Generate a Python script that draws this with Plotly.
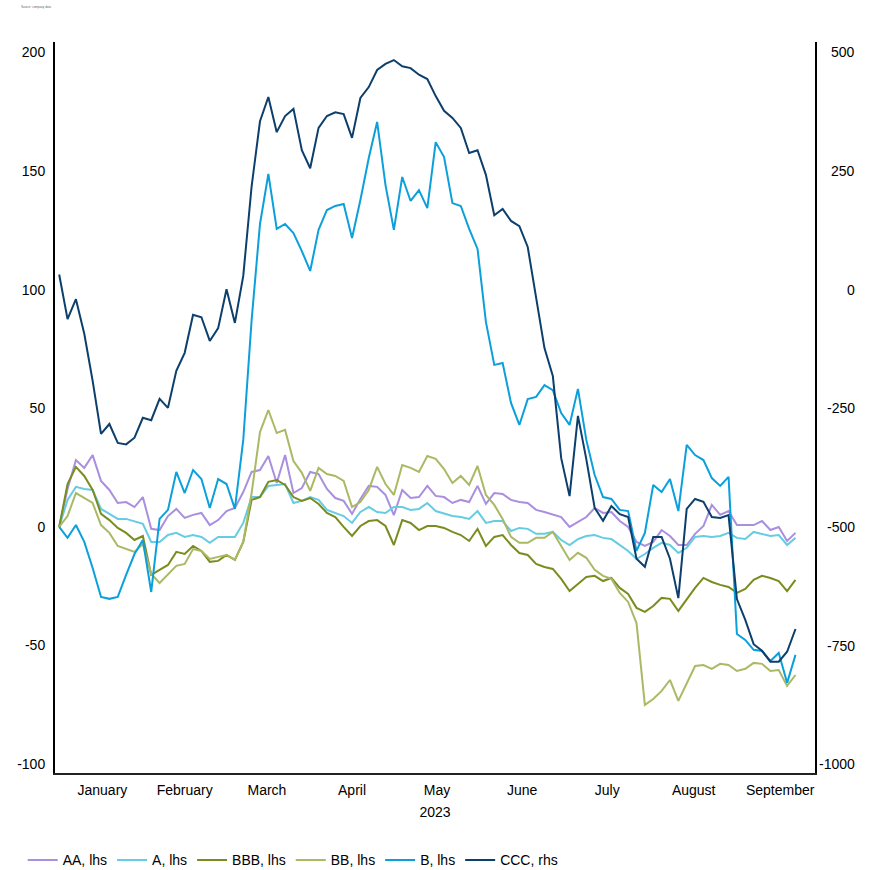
import pandas as pd
import plotly.graph_objects as go

# Sample dates (every 3 days from 1 Jan 2023)
dates = pd.date_range("2023-01-01", periods=89, freq="3D")

aa_lhs = [0, 16, 28.2, 24.9, 30.3, 19.4, 15.6, 10.1, 10.5, 8.4,
          12.6, -0.8, -1.3, 4.6, 7.6, 3.8, 5.1, 5.9, 0.8, 2.9,
          6.7, 8, 14.7, 23.2, 24, 29.9, 18.5, 30.3, 14.3, 16.4,
          23.2, 22.3, 16, 12.2, 11, 5.5, 11.8, 17.3, 16.9, 13.5,
          5, 15.6, 12.2, 12.6, 17.3, 13.1, 12.6, 10.1, 11.4, 10.5,
          17.3, 9.7, 14.3, 13.9, 11.4, 10.5, 10.1, 7.2, 6.3, 5.1,
          4.2, 0, 2.1, 4.2, 8, 5.9, 6.3, 2.5, 0, -6.3,
          -8, -6.3, -1.3, -3.8, -7.6, -7.6, -2.9, 0.4, 9.3, 5.1,
          6.7, 0.8, 0.8, 0.8, 2.5, -1.3, 0, -5.9, -2.5]

a_lhs = [0, 11.4, 16.9, 16, 15.6, 7.6, 5.5, 3.4, 3.4, 2.5,
         1.3, -6.3, -6.3, -3.4, -2.5, -4.2, -3.4, -4.2, -6.7, -4.2,
         -4.2, -4.2, 1.7, 12.6, 12.6, 17.3, 17.7, 18.1, 10.1, 11,
         12.6, 11.4, 7.2, 5.9, 4.6, 1.7, 6.3, 8.4, 6.3, 5.9,
         8.4, 8.4, 7.2, 7.6, 10.1, 6.7, 5.5, 4.6, 4.2, 3.4,
         6.7, 1.7, 2.5, 2.5, -1.7, -0.4, -0.8, -2.9, -2.9, -2.1,
         -5.5, -7.6, -5.1, -3.8, -3.4, -4.6, -5.1, -7.6, -10.1, -13.5,
         -11.4, -8.8, -6.7, -7.6, -11, -8.8, -4.2, -3.8, -4.2, -3.8,
         -2.5, -4.6, -5.1, -2.1, -2.9, -3.8, -3.4, -7.6, -4.6]

bbb_lhs = [0, 18.1, 25.3, 21.5, 15.6, 5.5, 2.9, -0.4, -2.5, -5.5,
           -3.8, -20.2, -18.1, -16, -10.5, -11.4, -8, -10.1, -14.7, -14.3,
           -11.8, -13.9, -6.3, 11.4, 12.6, 19, 19.8, 17.7, 12.6, 11,
           12.2, 9.7, 5.9, 4.2, 0, -3.8, 0.4, 2.5, 2.9, 0.4,
           -7.6, 2.9, 1.7, -1.3, 0.4, 0.4, -0.4, -2.1, -3.4, -5.9,
           -0.8, -8, -4.2, -3.4, -7.6, -11, -11.8, -15.6, -16.9, -17.7,
           -21.9, -27, -24, -21.1, -20.6, -22.8, -21.5, -25.7, -28.2, -34.1,
           -35.8, -33.3, -29.9, -30.3, -35.4, -30.3, -25.7, -21.5, -23.2, -24.4,
           -25.3, -27.8, -26.1, -22.3, -20.6, -21.5, -22.8, -27, -22.3]

bb_lhs = [0, 4.6, 14.3, 12.2, 10.1, 0.8, -2.5, -8, -9.3, -10.5,
          -7.2, -19.8, -23.6, -19.8, -16.4, -15.6, -9.3, -10.1, -13.5, -12.6,
          -11.8, -13.9, -6.3, 14.3, 40, 49.3, 39.6, 40.9, 27.8, 22.8,
          15.2, 24.9, 22.3, 21.5, 19.4, 8.4, 10.5, 15.6, 25.3, 18.1,
          13.5, 26.1, 24.9, 23.2, 29.9, 28.7, 24.4, 18.5, 21.5, 17.7,
          25.7, 13.5, 9.3, 3.4, -4.2, -6.7, -6.7, -4.6, -4.6, -2.1,
          -8, -13.9, -10.9, -13, -18.1, -20.6, -21.9, -27.8, -31.6, -40.5,
          -75, -72.5, -69.1, -64.5, -73.3, -66.2, -58.6, -58.2, -59.8, -57.7,
          -58.2, -60.7, -59.8, -57.3, -57.7, -60.7, -60.3, -67, -62.4]

b_lhs = [0, -4.6, 0.8, -6.3, -17.3, -29.5, -30.3, -29.5, -20.2, -11.4,
         -5.5, -27.4, 3.4, 7.2, 23.2, 14.3, 24, 20.2, 8, 20.2,
         18.1, 7.6, 36.7, 87.2, 127.7, 148.8, 125.6, 127.7, 123.9, 116.3,
         107.9, 125.2, 133.6, 135.3, 136.1, 121.8, 137.8, 155.5, 170.7, 144.1,
         125.2, 147.5, 137.4, 142, 134.4, 162.2, 155.9, 136.5, 135.3, 125.6,
         117.2, 86.4, 68.3, 69.1, 52.3, 43, 53.9, 54.8, 59.8, 57.7,
         48, 43, 58.2, 36.7, 21.9, 12.6, 11.8, 7.2, 6.7, -10.1,
         -2.5, 17.7, 14.7, 20.2, 6.7, 34.6, 30.3, 28.2, 20.6, 17.3,
         21.1, -45.1, -47.6, -51.8, -52.3, -56.5, -53.1, -65.7, -53.9]

ccc_rhs = [32, -62, -20, -93, -192, -304, -283, -323, -326, -312,
           -270, -275, -230, -249, -171, -133, -53, -58, -108, -81,
           1, -70, 29, 218, 355, 406, 332, 366, 381, 294,
           256, 341, 366, 374, 370, 320, 404, 427, 463, 476,
           484, 471, 467, 453, 444, 408, 377, 362, 341, 288,
           294, 242, 157, 170, 145, 134, 90, -20, -123, -182,
           -355, -435, -266, -357, -460, -487, -456, -473, -479, -567,
           -584, -521, -521, -567, -650, -462, -441, -447, -479, -481,
           -475, -652, -696, -747, -761, -784, -784, -763, -715]

lhs_ticks = [200, 150, 100, 50, 0, -50, -100]
rhs_ticks = [500, 250, 0, -250, -500, -750, -1000]

series = [
    ("AA, lhs", aa_lhs, "#A98FDD", "y"),
    ("A, lhs", a_lhs, "#66CCE4", "y"),
    ("BBB, lhs", bbb_lhs, "#7B8C1F", "y"),
    ("BB, lhs", bb_lhs, "#AAB964", "y"),
    ("B, lhs", b_lhs, "#0BA0DC", "y"),
    ("CCC, rhs", ccc_rhs, "#0C3F6C", "y2"),
]

FONT = "Liberation Sans, Arial, sans-serif"

fig = go.Figure()
for name, vals, color, ax in series:
    fig.add_trace(go.Scatter(x=dates, y=vals, name=name, mode="lines",
                             yaxis=ax, line=dict(color=color, width=2)))

fig.update_layout(
    width=873, height=870,
    margin=dict(l=55, r=58, t=42, b=97),
    paper_bgcolor="white", plot_bgcolor="white",
    font=dict(family=FONT, size=14, color="#000"),
    showlegend=True,
    legend=dict(orientation="h", xref="container", yref="container",
                x=0.026, y=0.011, xanchor="left", yanchor="middle",
                font=dict(size=14), itemwidth=30, tracegroupgap=0),
    xaxis=dict(type="date", range=["2022-12-30 12:00", "2023-09-29"],
               tick0="2023-01-01", dtick="M1", tickformat="%B",
               ticklabelmode="period", showgrid=False, ticks="",
               ticklabelstandoff=3,
               showline=True, linecolor="#222", linewidth=2,
               zeroline=False,
               title=dict(text="2023", standoff=10, font=dict(size=14))),
    yaxis=dict(range=[-103.7, 204.4], tickvals=lhs_ticks,
               ticktext=[str(v) for v in lhs_ticks],
               showgrid=False, zeroline=False, ticks="",
               ticklabelstandoff=5,
               showline=True, linecolor="#000", linewidth=2),
    yaxis2=dict(range=[-1018.5, 522], overlaying="y", side="right",
                tickvals=rhs_ticks, showticklabels=False,
                showgrid=False, zeroline=False, ticks="",
                showline=True, linecolor="#000", linewidth=2),
)

# Right-hand axis labels, right-aligned like the reference
for v in rhs_ticks:
    fig.add_annotation(text=str(v), xref="paper", yref="y2",
                       x=(857 - 55) / 760, y=v, xanchor="right",
                       yanchor="middle", showarrow=False,
                       font=dict(size=14, color="#000"))

fig.add_annotation(text="Source: company data",
                   xref="paper", yref="paper", x=-0.048, y=1.042,
                   xanchor="left", yanchor="bottom", showarrow=False,
                   font=dict(size=3, color="#666"))

fig.write_html("out.html", config={"displayModeBar": False},
               post_script="document.body.style.margin='0';document.body.style.overflow='hidden';")
